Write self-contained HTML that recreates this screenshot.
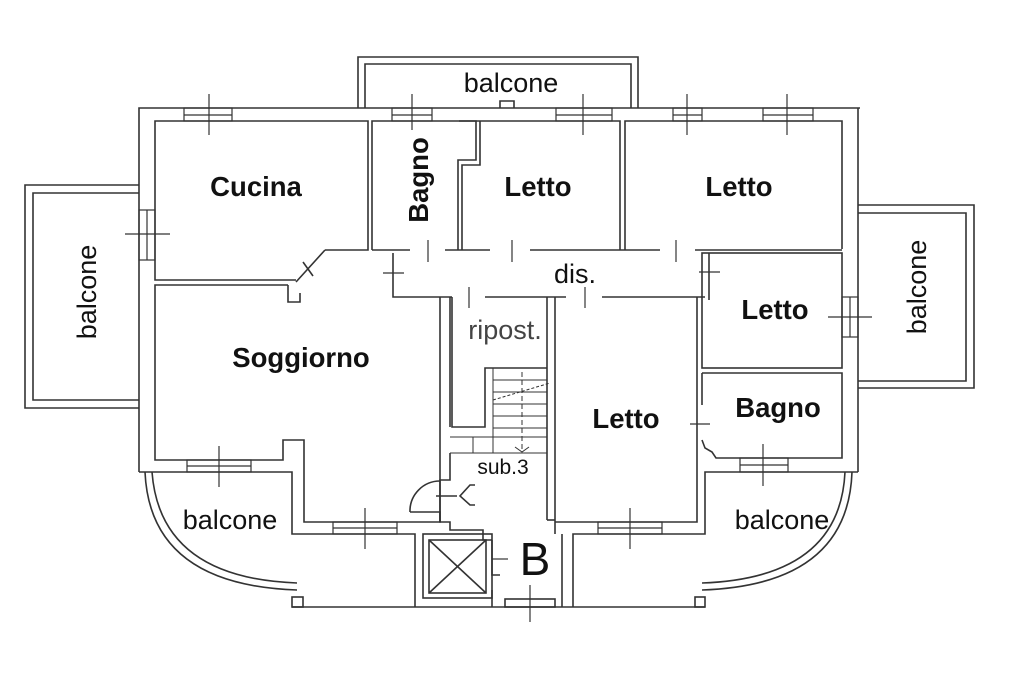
<!DOCTYPE html>
<html><head><meta charset="utf-8"><style>
html,body{margin:0;padding:0;background:#fff;}
svg{display:block;}
text{font-family:"Liberation Sans",Arial,sans-serif;fill:#111;}
.b{font-weight:bold;font-size:27.5px;}
.n{font-size:27px;}
</style></head><body>
<svg width="1024" height="683" viewBox="0 0 1024 683" xmlns="http://www.w3.org/2000/svg">
<rect width="1024" height="683" fill="#fff"/>
<g fill="none" stroke="#333" stroke-width="1.6">
<polyline points="139,472 139,108 860,108"/>
<polyline points="858,108 858,472"/>
<polyline points="358,108 358,57 638,57 638,108"/>
<polyline points="365,108 365,64 631,64 631,108"/>
<polyline points="500,108 500,101 514,101 514,108"/>
<polyline points="139,185 25,185 25,408 139,408"/>
<polyline points="139,193 33,193 33,400 139,400"/>
<polyline points="858,205 974,205 974,388 858,388"/>
<polyline points="858,213 966,213 966,381 858,381"/>
<polyline points="296,280 155,280 155,121 368,121 368,250 325,250"/>
<line x1="325" y1="250" x2="296" y2="282"/>
<line x1="303" y1="262" x2="313" y2="276"/>
<polyline points="372,250 372,121 476,121 476,160 458,160 458,250"/>
<polyline points="480,121 480,165 462,165 462,250"/>
<polyline points="459,121 620,121 620,250"/>
<polyline points="625,250 625,121 842,121 842,249"/>
<line x1="372" y1="250" x2="410" y2="250"/><line x1="445" y1="250" x2="490" y2="250"/><line x1="530" y1="250" x2="660" y2="250"/><line x1="695" y1="250" x2="842" y2="250"/>
<polyline points="393,253 393,297 452,297"/><line x1="485" y1="297" x2="566" y2="297"/><line x1="602" y1="297" x2="705" y2="297"/>
<line x1="709" y1="253" x2="709" y2="300"/>
<rect x="702" y="253" width="140" height="115"/>
<polyline points="702,373 842,373 842,458 716,458 712,452 705,448 702,440"/>
<line x1="702" y1="373" x2="702" y2="405"/>
<polyline points="288,285 155,285 155,460 283,460 283,440 304,440 304,522 440,522 440,297"/>
<polyline points="288,285 288,302 300,302 300,293"/>
<line x1="450" y1="297" x2="450" y2="427"/>
<polyline points="139,472 292,472 292,534 415,534 415,607"/>
<polyline points="292,607 415,607"/>
<rect x="292" y="597" width="11" height="10"/>
<path d="M145,472 Q150,585 297,590"/>
<path d="M152,472 Q160,578 297,583"/>
<polyline points="452,297 452,427 485,427 485,368 547,368"/>
<line x1="547" y1="297" x2="547" y2="520"/>
<line x1="555" y1="297" x2="555" y2="534"/>
<g stroke-width="1">
<line x1="493" y1="368" x2="493" y2="453"/>
<line x1="493" y1="380" x2="547" y2="380"/><line x1="493" y1="392" x2="547" y2="392"/><line x1="493" y1="404" x2="547" y2="404"/><line x1="493" y1="416" x2="547" y2="416"/><line x1="493" y1="428" x2="547" y2="428"/>
<line x1="450" y1="437" x2="547" y2="437"/><line x1="450" y1="453" x2="547" y2="453"/>
<line x1="473" y1="437" x2="473" y2="453"/>
<line x1="522" y1="372" x2="522" y2="452" stroke-dasharray="5,3"/>
<line x1="493" y1="400" x2="550" y2="383" stroke-dasharray="3,2"/>
<polyline points="515,447 522,452 529,447"/>
</g>
<polyline points="440,522 440,480 450,480 450,453"/>
<polyline points="410,512 440,512 440,522 450,522 450,530 483,530 483,540 492,540"/>
<path d="M440,481 A30,30 0 0 0 410,512"/>
<polyline points="475,485 470,485 460,496 470,505 475,505 Z"/>
<line x1="436" y1="496" x2="457" y2="496"/>
<rect x="423" y="534" width="69" height="64"/>
<rect x="429" y="540" width="57" height="53"/>
<line x1="429" y1="540" x2="486" y2="593"/><line x1="486" y1="540" x2="429" y2="593"/>
<polyline points="492,540 492,575 500,575"/>
<line x1="492" y1="590" x2="492" y2="607"/>
<polyline points="415,607 573,607"/>
<rect x="505" y="599" width="50" height="8"/>
<polyline points="547,520 555,520"/><line x1="562" y1="534" x2="562" y2="607"/>
<polyline points="555,522 697,522 697,297"/>
<polyline points="573,607 573,534 705,534 705,472 858,472"/>
<line x1="573" y1="607" x2="705" y2="607"/>
<rect x="695" y="597" width="10" height="10"/>
<path d="M852,472 Q848,585 702,590"/>
<path d="M845,472 Q840,578 702,583"/>
<g stroke-width="1.2">
<rect x="184" y="108" width="48" height="13"/><line x1="184" y1="115" x2="232" y2="115"/>
<rect x="392" y="108" width="40" height="13"/><line x1="392" y1="115" x2="432" y2="115"/>
<rect x="556" y="108" width="56" height="13"/><line x1="556" y1="115" x2="612" y2="115"/>
<rect x="673" y="108" width="29" height="13"/><line x1="673" y1="115" x2="702" y2="115"/>
<rect x="763" y="108" width="50" height="13"/><line x1="763" y1="115" x2="813" y2="115"/>
<rect x="139" y="210" width="16" height="50"/><line x1="147" y1="210" x2="147" y2="260"/>
<rect x="842" y="297" width="16" height="40"/><line x1="850" y1="297" x2="850" y2="337"/>
<rect x="187" y="460" width="64" height="12"/><line x1="187" y1="466" x2="251" y2="466"/>
<rect x="333" y="522" width="64" height="12"/><line x1="333" y1="528" x2="397" y2="528"/>
<rect x="598" y="522" width="64" height="12"/><line x1="598" y1="528" x2="662" y2="528"/>
<rect x="740" y="458" width="48" height="14"/><line x1="740" y1="465" x2="788" y2="465"/>
</g>
<g stroke-width="1.2">
<line x1="209" y1="94" x2="209" y2="135"/><line x1="412" y1="94" x2="412" y2="130"/><line x1="583" y1="94" x2="583" y2="135"/><line x1="687" y1="94" x2="687" y2="135"/><line x1="787" y1="94" x2="787" y2="135"/>
<line x1="125" y1="234" x2="170" y2="234"/>
<line x1="828" y1="317" x2="872" y2="317"/>
<line x1="219" y1="446" x2="219" y2="487"/><line x1="365" y1="508" x2="365" y2="549"/><line x1="630" y1="508" x2="630" y2="549"/><line x1="763" y1="444" x2="763" y2="486"/><line x1="530" y1="585" x2="530" y2="622"/>
<line x1="428" y1="240" x2="428" y2="262"/><line x1="512" y1="240" x2="512" y2="262"/><line x1="676" y1="240" x2="676" y2="262"/>
<line x1="383" y1="273" x2="404" y2="273"/><line x1="699" y1="272" x2="720" y2="272"/>
<line x1="469" y1="287" x2="469" y2="308"/><line x1="585" y1="287" x2="585" y2="308"/>
<line x1="690" y1="424" x2="710" y2="424"/>
<line x1="492" y1="559" x2="508" y2="559"/>
</g>
</g>
<text class="b" x="256" y="196" text-anchor="middle">Cucina</text>
<text class="b" x="0" y="0" text-anchor="middle" transform="translate(428,180) rotate(-90)">Bagno</text>
<text class="b" x="538" y="196" text-anchor="middle">Letto</text>
<text class="b" x="739" y="196" text-anchor="middle">Letto</text>
<text class="n" x="575" y="283" text-anchor="middle">dis.</text>
<text class="b" x="775" y="319" text-anchor="middle">Letto</text>
<text class="n" x="505" y="339" text-anchor="middle" style="fill:#444">ripost.</text>
<text class="b" x="301" y="367" text-anchor="middle">Soggiorno</text>
<text class="b" x="626" y="428" text-anchor="middle">Letto</text>
<text class="b" x="778" y="417" text-anchor="middle">Bagno</text>
<text class="n" x="511" y="92" text-anchor="middle">balcone</text>
<text class="n" x="0" y="0" text-anchor="middle" transform="translate(96,292) rotate(-90)">balcone</text>
<text class="n" x="0" y="0" text-anchor="middle" transform="translate(926,287) rotate(-90)">balcone</text>
<text class="n" x="230" y="529" text-anchor="middle">balcone</text>
<text class="n" x="782" y="529" text-anchor="middle">balcone</text>
<text x="503" y="474" text-anchor="middle" font-size="21">sub.3</text>
<text x="535" y="575" text-anchor="middle" font-size="46">B</text>
</svg>
</body></html>
